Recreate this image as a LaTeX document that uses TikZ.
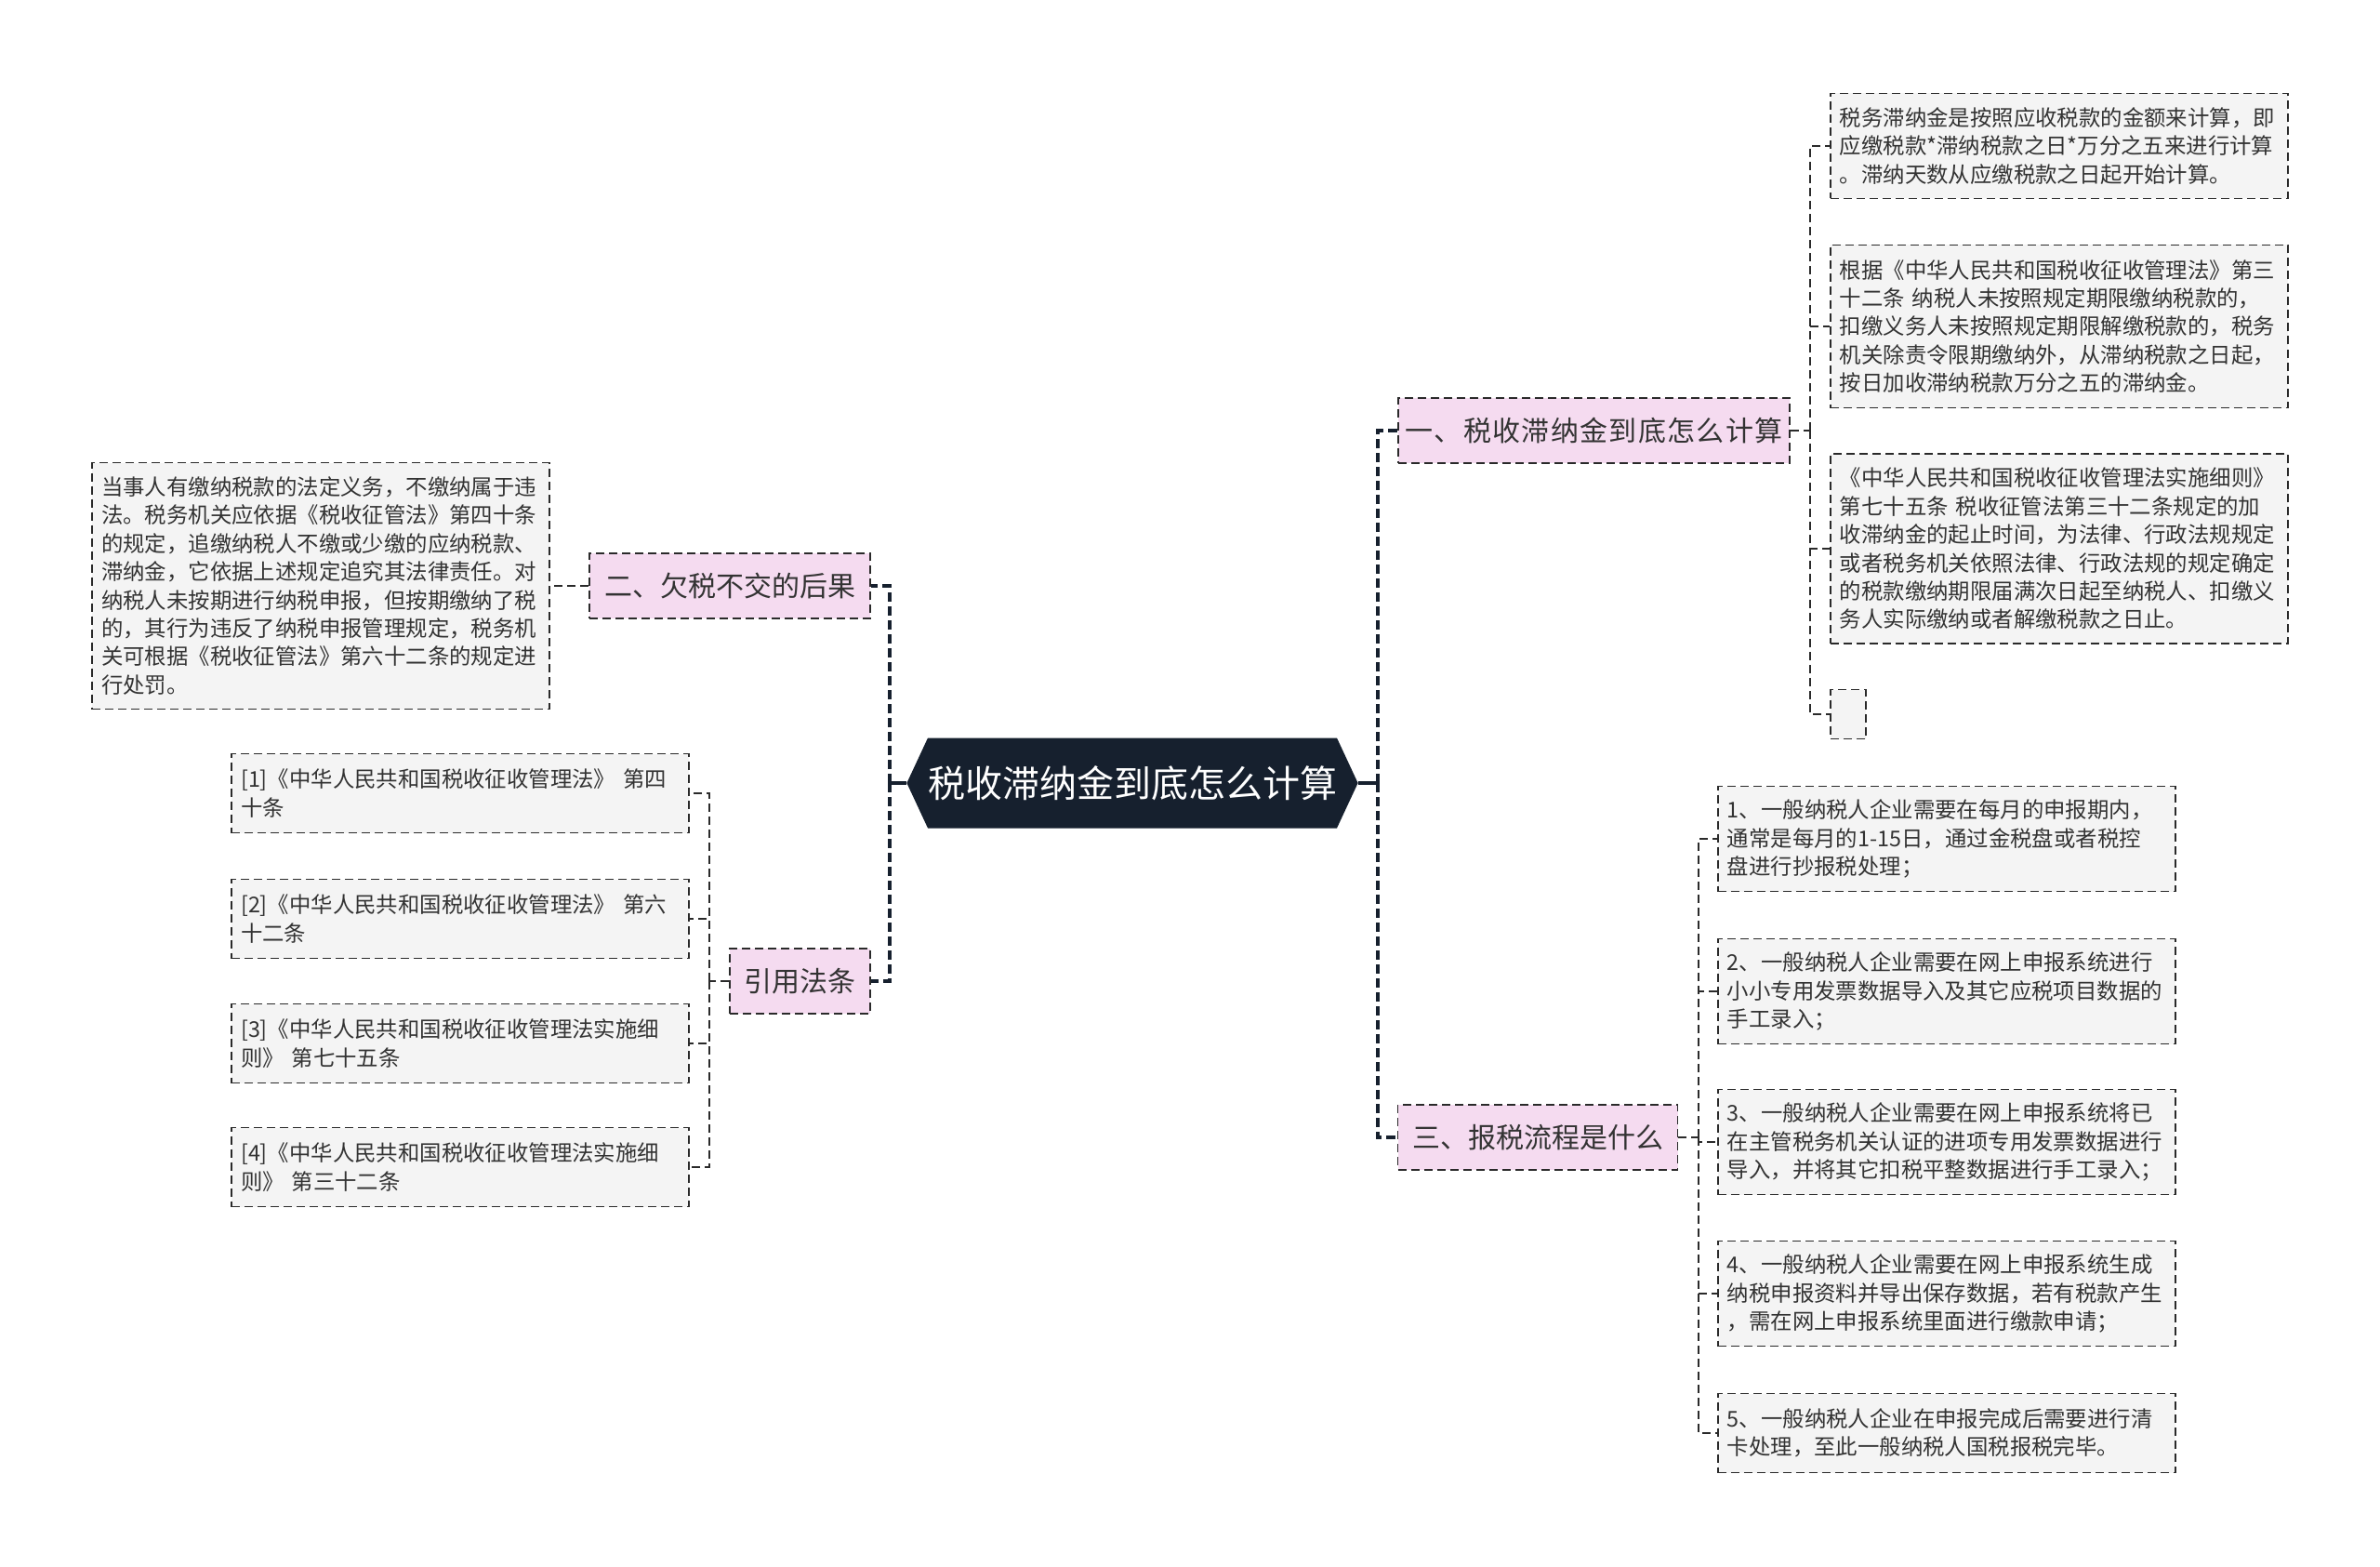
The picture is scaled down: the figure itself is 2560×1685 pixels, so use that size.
\documentclass[tikz,border=0pt]{standalone}
\usepackage{fontspec}
\setmainfont{Noto Sans CJK SC}
\usepackage{tikz}
\usetikzlibrary{shapes.symbols}
\definecolor{rootbg}{HTML}{16202E}
\definecolor{pinkbg}{HTML}{F5DBF0}
\definecolor{leafbg}{HTML}{F4F4F4}
\definecolor{edgecol}{HTML}{2A2A2A}
\definecolor{textcol}{HTML}{333333}

\begin{document}
\begin{tikzpicture}[x=0.5pt, y=-0.5pt,
    rootnode/.style={shape=signal, signal to=west and east, signal pointer angle=130, fill=rootbg, text=white,
        minimum width=242pt, minimum height=48.5pt, inner sep=0pt, font=\fontsize{20pt}{24pt}\selectfont},
    topic/.style={draw=edgecol, fill=pinkbg, line width=0.9pt, dash pattern=on 4.5pt off 2.5pt,
        minimum height=35pt, inner sep=0pt, text=textcol, font=\fontsize{15pt}{18pt}\selectfont},
    leaf/.style={draw=edgecol, fill=leafbg, line width=0.9pt, dash pattern=on 4.5pt off 2.5pt,
        text width=236pt, inner xsep=5pt, inner ysep=0pt, align=left, text=textcol,
        font=\fontsize{11.7pt}{15.2pt}\selectfont},
    trunk/.style={draw=rootbg, line width=1.7pt, dash pattern=on 5pt off 2.5pt},
    stem/.style={draw=rootbg, line width=1.7pt},
    twig/.style={draw=edgecol, line width=0.9pt, dash pattern=on 4.5pt off 2.5pt}
]
    \fill[white] (0,0) rectangle (2560,1685);
    \useasboundingbox (0,0) rectangle (2560,1685);

    % 中心主题
    \node[rootnode] (root) at (1218,842) {税收滞纳金到底怎么计算};

    % 一级分支
    \node[topic, minimum width=210.5pt, font=\fontsize{15pt}{18pt}\selectfont\addfontfeature{LetterSpace=4.5}] (t1) at (1714.5,463) {一、税收滞纳金到底怎么计算};
    \node[topic, minimum width=151pt] (t2) at (785,630) {二、欠税不交的后果};
    \node[topic, minimum width=75.5pt] (t4) at (860.5,1055) {引用法条};
    \node[topic, minimum width=150.5pt] (t3) at (1654,1223) {三、报税流程是什么};

    % 一、计算方法
    \node[leaf, anchor=west, minimum height=56.5pt] (a1) at (1968,157)
        {税务滞纳金是按照应收税款的金额来计算，即\\应缴税款*滞纳税款之日*万分之五来进行计算\\。滞纳天数从应缴税款之日起开始计算。};
    \node[leaf, anchor=west, minimum height=87.5pt] (a2) at (1968,351)
        {根据《中华人民共和国税收征收管理法》第三\\十二条~纳税人未按照规定期限缴纳税款的，\\扣缴义务人未按照规定期限解缴税款的，税务\\机关除责令限期缴纳外，从滞纳税款之日起，\\按日加收滞纳税款万分之五的滞纳金。};
    \node[leaf, anchor=west, minimum height=102pt] (a3) at (1968,590)
        {《中华人民共和国税收征收管理法实施细则》\\第七十五条~税收征管法第三十二条规定的加\\收滞纳金的起止时间，为法律、行政法规规定\\或者税务机关依照法律、行政法规的规定确定\\的税款缴纳期限届满次日起至纳税人、扣缴义\\务人实际缴纳或者解缴税款之日止。};
    \node[leaf, anchor=west, text width=9pt, minimum height=26.5pt] (a4) at (1968,768) {};

    % 二、后果
    \node[leaf, anchor=east, minimum height=132.5pt] (d1) at (592,630)
        {当事人有缴纳税款的法定义务，不缴纳属于违\\法。税务机关应依据《税收征管法》第四十条\\的规定，追缴纳税人不缴或少缴的应纳税款、\\滞纳金，它依据上述规定追究其法律责任。对\\纳税人未按期进行纳税申报，但按期缴纳了税\\的，其行为违反了纳税申报管理规定，税务机\\关可根据《税收征管法》第六十二条的规定进\\行处罚。};

    % 引用法条
    \node[leaf, anchor=east, minimum height=42.5pt] (c1) at (742,853)
        {[1]《中华人民共和国税收征收管理法》~第四\\十条};
    \node[leaf, anchor=east, minimum height=42.5pt] (c2) at (742,988)
        {[2]《中华人民共和国税收征收管理法》~第六\\十二条};
    \node[leaf, anchor=east, minimum height=42.5pt] (c3) at (742,1122)
        {[3]《中华人民共和国税收征收管理法实施细\\则》~第七十五条};
    \node[leaf, anchor=east, minimum height=42.5pt] (c4) at (742,1255)
        {[4]《中华人民共和国税收征收管理法实施细\\则》~第三十二条};

    % 三、报税流程
    \node[leaf, anchor=west, minimum height=56.5pt] (b1) at (1847,902)
        {1、一般纳税人企业需要在每月的申报期内，\\通常是每月的\mbox{1-15}日，通过金税盘或者税控\\盘进行抄报税处理；};
    \node[leaf, anchor=west, minimum height=56.5pt] (b2) at (1847,1066)
        {2、一般纳税人企业需要在网上申报系统进行\\小小专用发票数据导入及其它应税项目数据的\\手工录入；};
    \node[leaf, anchor=west, minimum height=56.5pt] (b3) at (1847,1228)
        {3、一般纳税人企业需要在网上申报系统将已\\在主管税务机关认证的进项专用发票数据进行\\导入，并将其它扣税平整数据进行手工录入；};
    \node[leaf, anchor=west, minimum height=56.5pt] (b4) at (1847,1391)
        {4、一般纳税人企业需要在网上申报系统生成\\纳税申报资料并导出保存数据，若有税款产生\\，需在网上申报系统里面进行缴款申请；};
    \node[leaf, anchor=west, minimum height=42.5pt] (b5) at (1847,1541)
        {5、一般纳税人企业在申报完成后需要进行清\\卡处理，至此一般纳税人国税报税完毕。};

    % 连线
    \coordinate (rl) at (957,842);
    \coordinate (rr) at (1482,842);
    \draw[stem] (root.west) -- (rl);
    \draw[stem] (root.east) -- (rr);
    \foreach \n in {t2,t4} \draw[trunk] (rl) |- (\n.east);
    \foreach \n in {t1,t3} \draw[trunk] (rr) |- (\n.west);

    \coordinate (j1) at (1947,463);
    \draw[twig] (t1.east) -- (j1);
    \foreach \n in {a1,a2,a3,a4} \draw[twig] (j1) |- (\n.west);

    \draw[twig] (t2.west) -- (d1.east);

    \coordinate (j4) at (763,1055);
    \draw[twig] (t4.west) -- (j4);
    \foreach \n in {c1,c2,c3,c4} \draw[twig] (j4) |- (\n.east);

    \coordinate (j3) at (1827,1223);
    \draw[twig] (t3.east) -- (j3);
    \foreach \n in {b1,b2,b3,b4,b5} \draw[twig] (j3) |- (\n.west);
\end{tikzpicture}
\end{document}
